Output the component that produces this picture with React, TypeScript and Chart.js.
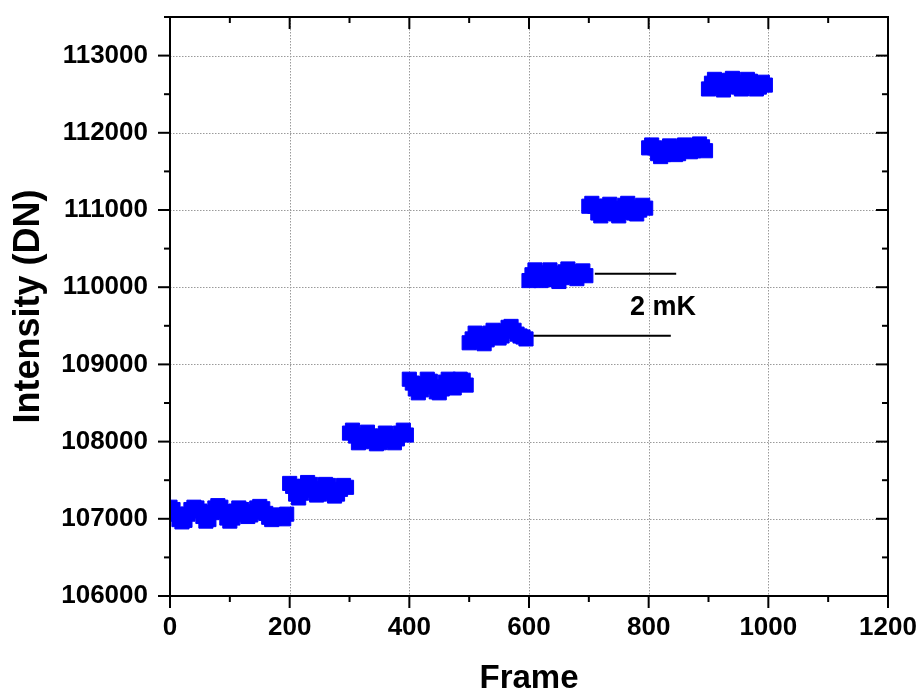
import React, { useEffect, useRef } from "react";
import { Chart, registerables } from "chart.js";

Chart.register(...registerables);

const FONT = "'Liberation Sans', Arial, sans-serif";

// Frame sampling interval of the plotted series
const FRAME_INTERVAL = 5;

// First frame of each temperature step
const stepStartFrames = [0, 200, 300, 400, 500, 600, 700, 800, 900];

// Intensity (DN) values for each step, one every FRAME_INTERVAL frames
const step1 = [
  107150, 107120, 107060, 106990, 106960, 106980, 107060, 107120, 107150, 107140,
  107100, 107030, 106970, 106990, 107080, 107140, 107170, 107150, 107090, 107010,
  106970, 107010, 107100, 107140, 107120, 107060, 107030, 107050, 107090, 107140,
  107160, 107130, 107070, 107020, 106990, 107010, 107050, 107030, 107000, 107060,
];
const step2 = [
  107458, 107420, 107320, 107270, 107332, 107420, 107470, 107445, 107370, 107308,
  107320, 107395, 107445, 107432, 107345, 107295, 107320, 107382, 107432, 107408,
];
const step3 = [
  108110, 108148, 108072, 107985, 107998, 108085, 108122, 108072, 108010, 107972,
  107985, 108072, 108110, 108060, 108010, 107985, 108035, 108110, 108148, 108085,
];
const step4 = [
  108808, 108758, 108682, 108632, 108670, 108745, 108808, 108782, 108708, 108645,
  108632, 108682, 108770, 108808, 108745, 108695, 108745, 108808, 108795, 108732,
];
const step5 = [
  109280, 109330, 109405, 109380, 109292, 109268, 109318, 109405, 109442, 109405,
  109342, 109368, 109430, 109480, 109492, 109442, 109392, 109368, 109355, 109330,
];
const step6 = [
  110086, 110161, 110224, 110174, 110086, 110099, 110186, 110224, 110174, 110099,
  110074, 110124, 110199, 110236, 110199, 110136, 110111, 110161, 110211, 110149,
];
const step7 = [
  111049, 111086, 111049, 110961, 110924, 110961, 111049, 111074, 111024, 110949,
  110924, 110974, 111061, 111086, 111036, 110961, 110949, 110999, 111061, 111024,
];
const step8 = [
  111805, 111842, 111805, 111730, 111692, 111718, 111792, 111830, 111780, 111718,
  111730, 111805, 111842, 111818, 111755, 111768, 111830, 111855, 111818, 111768,
];
const step9 = [
  112568, 112642, 112692, 112668, 112592, 112555, 112605, 112680, 112705, 112655,
  112592, 112568, 112618, 112692, 112668, 112605, 112568, 112592, 112655, 112618,
];
const steps = [step1, step2, step3, step4, step5, step6, step7, step8, step9];

// Axis ticks
const xMajorTicks = [0, 200, 400, 600, 800, 1000, 1200];
const xMinorTicks = [100, 300, 500, 700, 900, 1100];
const yMajorTicks = [106000, 107000, 108000, 109000, 110000, 111000, 112000, 113000];
const yMinorTicks = [106500, 107500, 108500, 109500, 110500, 111500, 112500, 113500];
const X_MIN = 0;
const X_MAX = 1200;
const Y_MIN = 106000;
const Y_MAX = 113500;

// "2 mK" annotation: two reference lines and label
const lowerRefFrames = [607, 837];
const lowerRefLevel = 109370;
const upperRefFrames = [710, 846];
const upperRefLevel = 110174;
const annotationLabel = "2 mK";
const annotationFrame = 824;
const annotationLevel = 109735;

const framePlugin = {
  id: "originFrame",
  beforeDatasetsDraw(chart: any) {
    const { ctx, chartArea: a, scales } = chart;
    const x = scales.x;
    const y = scales.y;
    ctx.save();
    ctx.strokeStyle = "#9a9a9a";
    ctx.lineWidth = 1;
    ctx.setLineDash([1.5, 1.5]);
    for (const v of xMajorTicks) {
      const px = Math.round(x.getPixelForValue(v)) + 0.5;
      ctx.beginPath();
      ctx.moveTo(px, a.top);
      ctx.lineTo(px, a.bottom);
      ctx.stroke();
    }
    for (const v of yMajorTicks) {
      const py = Math.round(y.getPixelForValue(v)) + 0.5;
      ctx.beginPath();
      ctx.moveTo(a.left, py);
      ctx.lineTo(a.right, py);
      ctx.stroke();
    }
    ctx.restore();
  },
  afterDatasetsDraw(chart: any) {
    const { ctx, chartArea: a, scales } = chart;
    const x = scales.x;
    const y = scales.y;
    ctx.save();
    ctx.strokeStyle = "#000";
    ctx.lineWidth = 2;
    ctx.setLineDash([]);
    ctx.strokeRect(a.left, a.top, a.right - a.left, a.bottom - a.top);
    const seg = (x1: number, y1: number, x2: number, y2: number) => {
      ctx.beginPath();
      ctx.moveTo(x1, y1);
      ctx.lineTo(x2, y2);
      ctx.stroke();
    };
    const MAJ = 12;
    const MIN = 6;
    for (const [list, len] of [[xMajorTicks, MAJ], [xMinorTicks, MIN]] as [number[], number][]) {
      for (const v of list) {
        const px = x.getPixelForValue(v);
        seg(px, a.bottom, px, a.bottom + len);
        seg(px, a.top, px, a.top + len);
      }
    }
    for (const [list, len] of [[yMajorTicks, MAJ], [yMinorTicks, MIN]] as [number[], number][]) {
      for (const v of list) {
        const py = y.getPixelForValue(v);
        seg(a.left - len, py, a.left, py);
        seg(a.right - len, py, a.right, py);
      }
    }
    ctx.fillStyle = "#000";
    ctx.font = `bold 27px ${FONT}`;
    ctx.textAlign = "center";
    ctx.textBaseline = "middle";
    ctx.fillText(annotationLabel, x.getPixelForValue(annotationFrame), y.getPixelForValue(annotationLevel));
    ctx.restore();
  },
};

const zeroPadding = (s: any) => {
  s.paddingTop = 0;
  s.paddingBottom = 0;
  s.paddingLeft = 0;
  s.paddingRight = 0;
};

export default function App() {
  const ref = useRef<HTMLCanvasElement | null>(null);

  useEffect(() => {
    if (!ref.current) return;
    const pointDatasets = steps.map((vals, k) => ({
      type: "scatter" as const,
      data: vals.map((v, i) => ({ x: stepStartFrames[k] + i * FRAME_INTERVAL, y: v })),
      backgroundColor: "#0000ff",
      borderColor: "#0000ff",
      borderWidth: 1,
      pointStyle: "rect",
      pointRadius: 10,
      pointHoverRadius: 10,
      showLine: false,
      clip: 0,
    }));
    const refLine = (frames: number[], level: number) => ({
      type: "line" as const,
      data: frames.map((f) => ({ x: f, y: level })),
      borderColor: "#000",
      borderWidth: 2,
      pointRadius: 0,
      showLine: true,
      fill: false,
    });
    const tickFont = { family: FONT, size: 26, weight: "bold" as const };
    const chart = new Chart(ref.current, {
      type: "scatter",
      data: {
        datasets: [
          ...pointDatasets,
          refLine(lowerRefFrames, lowerRefLevel),
          refLine(upperRefFrames, upperRefLevel),
        ] as any,
      },
      options: {
        animation: false,
        responsive: false,
        devicePixelRatio: 1,
        layout: { autoPadding: false, padding: { top: 17, right: 32, left: 0, bottom: 0 } },
        plugins: { legend: { display: false }, tooltip: { enabled: false } },
        scales: {
          x: {
            type: "linear",
            min: X_MIN,
            max: X_MAX,
            afterBuildTicks: (s: any) => {
              s.ticks = xMajorTicks.map((v) => ({ value: v }));
            },
            afterFit: (s: any) => {
              s.height = 96;
              zeroPadding(s);
            },
            grid: { display: false, drawTicks: false },
            border: { display: false },
            ticks: {
              padding: 16,
              color: "#000",
              font: tickFont,
              maxRotation: 0,
              autoSkip: false,
              callback: (v: any) => String(v),
            },
            title: {
              display: true,
              text: "Frame",
              color: "#000",
              font: { family: FONT, size: 33, weight: "bold", lineHeight: 0.8 },
              padding: 0,
            },
          },
          y: {
            type: "linear",
            min: Y_MIN,
            max: Y_MAX,
            afterBuildTicks: (s: any) => {
              s.ticks = yMajorTicks.map((v) => ({ value: v }));
            },
            afterFit: (s: any) => {
              s.width = 170;
              zeroPadding(s);
            },
            grid: { display: false, drawTicks: false },
            border: { display: false },
            ticks: {
              padding: 22,
              color: "#000",
              font: tickFont,
              autoSkip: false,
              callback: (v: any) => String(v),
            },
            title: {
              display: true,
              text: "Intensity (DN)",
              color: "#000",
              font: { family: FONT, size: 36, weight: "bold", lineHeight: 1 },
              padding: { top: 11, bottom: 0 },
            },
          },
        },
      },
      plugins: [framePlugin],
    });
    return () => chart.destroy();
  }, []);

  return (
    <div style={{ position: "fixed", left: 0, top: 0, width: 920, height: 692, background: "#fff" }}>
      <canvas ref={ref} width={920} height={692} style={{ display: "block" }} />
    </div>
  );
}
